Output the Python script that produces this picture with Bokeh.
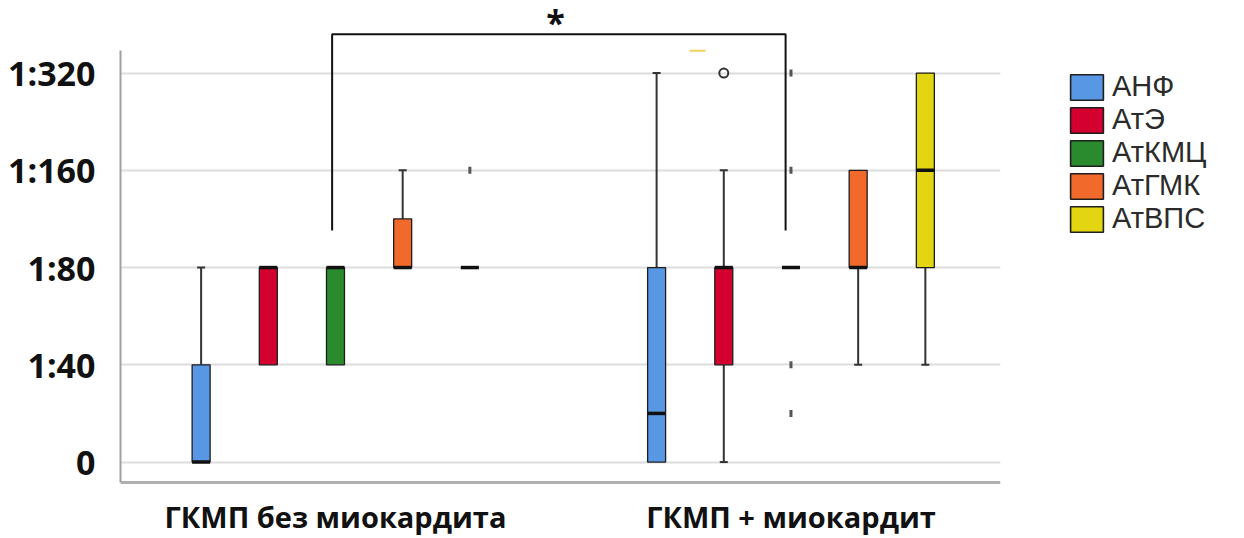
import numpy as np
from bokeh.plotting import figure
from bokeh.layouts import row
from bokeh.models import Range1d, FixedTicker, Legend, LegendItem, ColumnDataSource
from bokeh.core.properties import value
from bokeh.embed import file_html
from bokeh.resources import INLINE

# ---------------- data ----------------
groups = ["ГКМП без миокардита", "ГКМП + миокардит"]
series = ["АНФ", "АтЭ", "АтКМЦ", "АтГМК", "АтВПС"]
colors = ["#5797E3", "#D4002F", "#2A8A2E", "#F26A2B", "#E4D512"]
titer_levels = [0, 1, 2, 3, 4]
titer_labels = ["0", "1:40", "1:80", "1:160", "1:320"]

# per group (rows) and series (columns), values on the ordinal titre scale
q1 = [[0, 1, 1, 2, 2], [0, 1, 2, 2, 2]]
med = [[0, 2, 2, 2, 2], [0.5, 2, 2, 2, 3]]
q3 = [[1, 2, 2, 2.5, 2], [2, 2, 2, 3, 4]]
whisk_lo = [[0, 1, 1, 2, 2], [0, 0, 2, 1, 1]]
whisk_hi = [[2, 2, 2, 3, 2], [4, 3, 2, 3, 4]]

# small tick-like outliers
out_group = [0, 1, 1, 1, 1]
out_series = [4, 2, 2, 2, 2]
out_level = [3, 4, 3, 1, 0.5]
# open-circle outlier
circ_group = [1]
circ_series = [1]
circ_level = [4]
# stray yellow mark above the top line
stray_group = [1]
stray_slot = [0.61]
stray_level = [4.23]

# significance bracket (between АтКМЦ of both groups)
bracket_group = [0, 1]
bracket_slot = [1.95, 1.92]
bracket_low = 2.38
bracket_high = 4.40
signif_text = "*"
signif_level = 4.52

# ---------------- layout constants ----------------
SPACING = 0.1475
BW = 0.0395
Y_AXIS_BOTTOM = -0.206
Y_AXIS_TOP = 4.23


def xpos(g, s):
    return g + 1 + (s - 2) * SPACING


p = figure(width=1040, height=538,
           x_range=Range1d(0.528, 2.460), y_range=Range1d(-0.786, 4.746),
           output_backend="svg", toolbar_location=None,
           min_border_left=120, min_border_right=40,
           min_border_top=0, min_border_bottom=0)
p.outline_line_color = None
p.background_fill_color = "white"
p.border_fill_color = "white"
p.xgrid.visible = False
p.ygrid.grid_line_color = "#dddddd"
p.ygrid.grid_line_width = 2

ya = p.yaxis[0]
ya.ticker = FixedTicker(ticks=titer_levels)
ya.major_label_overrides = {lv: lb for lv, lb in zip(titer_levels, titer_labels)}
ya.major_label_text_font = "Open Sans"
ya.major_label_text_font_style = "bold"
ya.major_label_text_font_size = "34px"
ya.major_label_text_color = "#111111"
ya.axis_line_color = "#a0a0a0"
ya.axis_line_width = 2
ya.major_tick_line_color = None
ya.minor_tick_line_color = None
ya.major_tick_out = 0
ya.major_tick_in = 0
ya.major_label_standoff = 25
ya.bounds = (Y_AXIS_BOTTOM, Y_AXIS_TOP)

xa = p.xaxis[0]
xa.fixed_location = Y_AXIS_BOTTOM
xa.ticker = FixedTicker(ticks=[1, 2])
xa.major_label_overrides = {i + 1: g for i, g in enumerate(groups)}
xa.major_label_text_font = "Open Sans"
xa.major_label_text_font_style = "bold"
xa.major_label_text_font_size = "29px"
xa.major_label_text_color = "#111111"
xa.axis_line_color = "#b0b0b0"
xa.axis_line_width = 3
xa.major_tick_line_color = None
xa.minor_tick_line_color = None
xa.major_tick_out = 0
xa.major_tick_in = 0
xa.major_label_standoff = 15

# whiskers and caps
wx, wy0, wy1, cx, cy = [], [], [], [], []
for g in range(len(groups)):
    for s in range(len(series)):
        x = xpos(g, s)
        if whisk_hi[g][s] > q3[g][s]:
            wx.append(x); wy0.append(q3[g][s]); wy1.append(whisk_hi[g][s])
            cx.append(x); cy.append(whisk_hi[g][s])
        if whisk_lo[g][s] < q1[g][s]:
            wx.append(x); wy0.append(q1[g][s]); wy1.append(whisk_lo[g][s])
            cx.append(x); cy.append(whisk_lo[g][s])
p.segment(x0=wx, y0=wy0, x1=wx, y1=wy1, line_color="#333333", line_width=2)
p.scatter(x=cx, y=cy, marker="dash", size=8, line_color="#333333", line_width=2)

# boxes, one renderer per series
for s, name in enumerate(series):
    xs = [xpos(g, s) for g in range(len(groups))]
    src = ColumnDataSource(dict(x=xs, top=[q3[g][s] for g in range(len(groups))],
                                bottom=[q1[g][s] for g in range(len(groups))]))
    p.vbar(x="x", top="top", bottom="bottom", width=BW, source=src,
           fill_color=colors[s], line_color="#1e1e1e", line_width=1.3)

# medians
mx0, mx1, my = [], [], []
for g in range(len(groups)):
    for s in range(len(series)):
        x = xpos(g, s)
        mx0.append(x - BW / 2); mx1.append(x + BW / 2); my.append(med[g][s])
p.segment(x0=mx0, y0=my, x1=mx1, y1=my, line_color="#111111", line_width=3.5)

# outliers
ox = [xpos(g, s) for g, s in zip(out_group, out_series)]
p.scatter(x=ox, y=out_level, marker="dash", angle=np.pi / 2, size=7,
          line_color="#555555", line_width=3)
ccx = [xpos(g, s) for g, s in zip(circ_group, circ_series)]
p.scatter(x=ccx, y=circ_level, marker="circle", size=9, fill_color=None,
          line_color="#333333", line_width=2)
sx = [xpos(g, s) for g, s in zip(stray_group, stray_slot)]
p.scatter(x=sx, y=stray_level, marker="dash", size=16, line_color="#F5CF5A", line_width=2)

# significance bracket
bx = [xpos(g, s) for g, s in zip(bracket_group, bracket_slot)]
p.line(x=[bx[0], bx[0], bx[1], bx[1]], y=[bracket_low, bracket_high, bracket_high, bracket_low],
       line_color="#111111", line_width=2)
p.text(x=[(bx[0] + bx[1]) / 2 - 0.0075], y=[signif_level], text=[signif_text],
       text_font=value("Open Sans"), text_font_style="bold", text_font_size="34px",
       text_align="center", text_baseline="middle", text_color="#111111")

# ---------------- legend panel ----------------
pl = figure(width=204, height=538, x_axis_type=None, y_axis_type=None,
            x_range=Range1d(0, 1), y_range=Range1d(0, 1),
            output_backend="svg", toolbar_location=None,
            min_border_left=0, min_border_right=0, min_border_top=0, min_border_bottom=0)
pl.outline_line_color = None
pl.border_fill_color = "white"
pl.background_fill_color = "white"
pl.xgrid.visible = False
pl.ygrid.visible = False
items = []
for s, name in enumerate(series):
    # legend swatch renderers (no drawable data, only their style is used)
    r = pl.vbar(x=[np.nan], top=[np.nan], bottom=[np.nan], width=0.1,
                fill_color=colors[s], line_color="#1e1e1e", line_width=1.6)
    items.append(LegendItem(label=name, renderers=[r]))
legend = Legend(items=items, location=(26, 303), glyph_width=41, glyph_height=32,
                label_standoff=5, spacing=0, padding=0, margin=0,
                border_line_color=None, background_fill_alpha=0,
                label_text_font="Liberation Sans", label_text_font_size="29px",
                label_text_color="#2b2b2b")
pl.add_layout(legend)

layout = row(p, pl)
open("out.html", "w").write(file_html(layout, INLINE))
